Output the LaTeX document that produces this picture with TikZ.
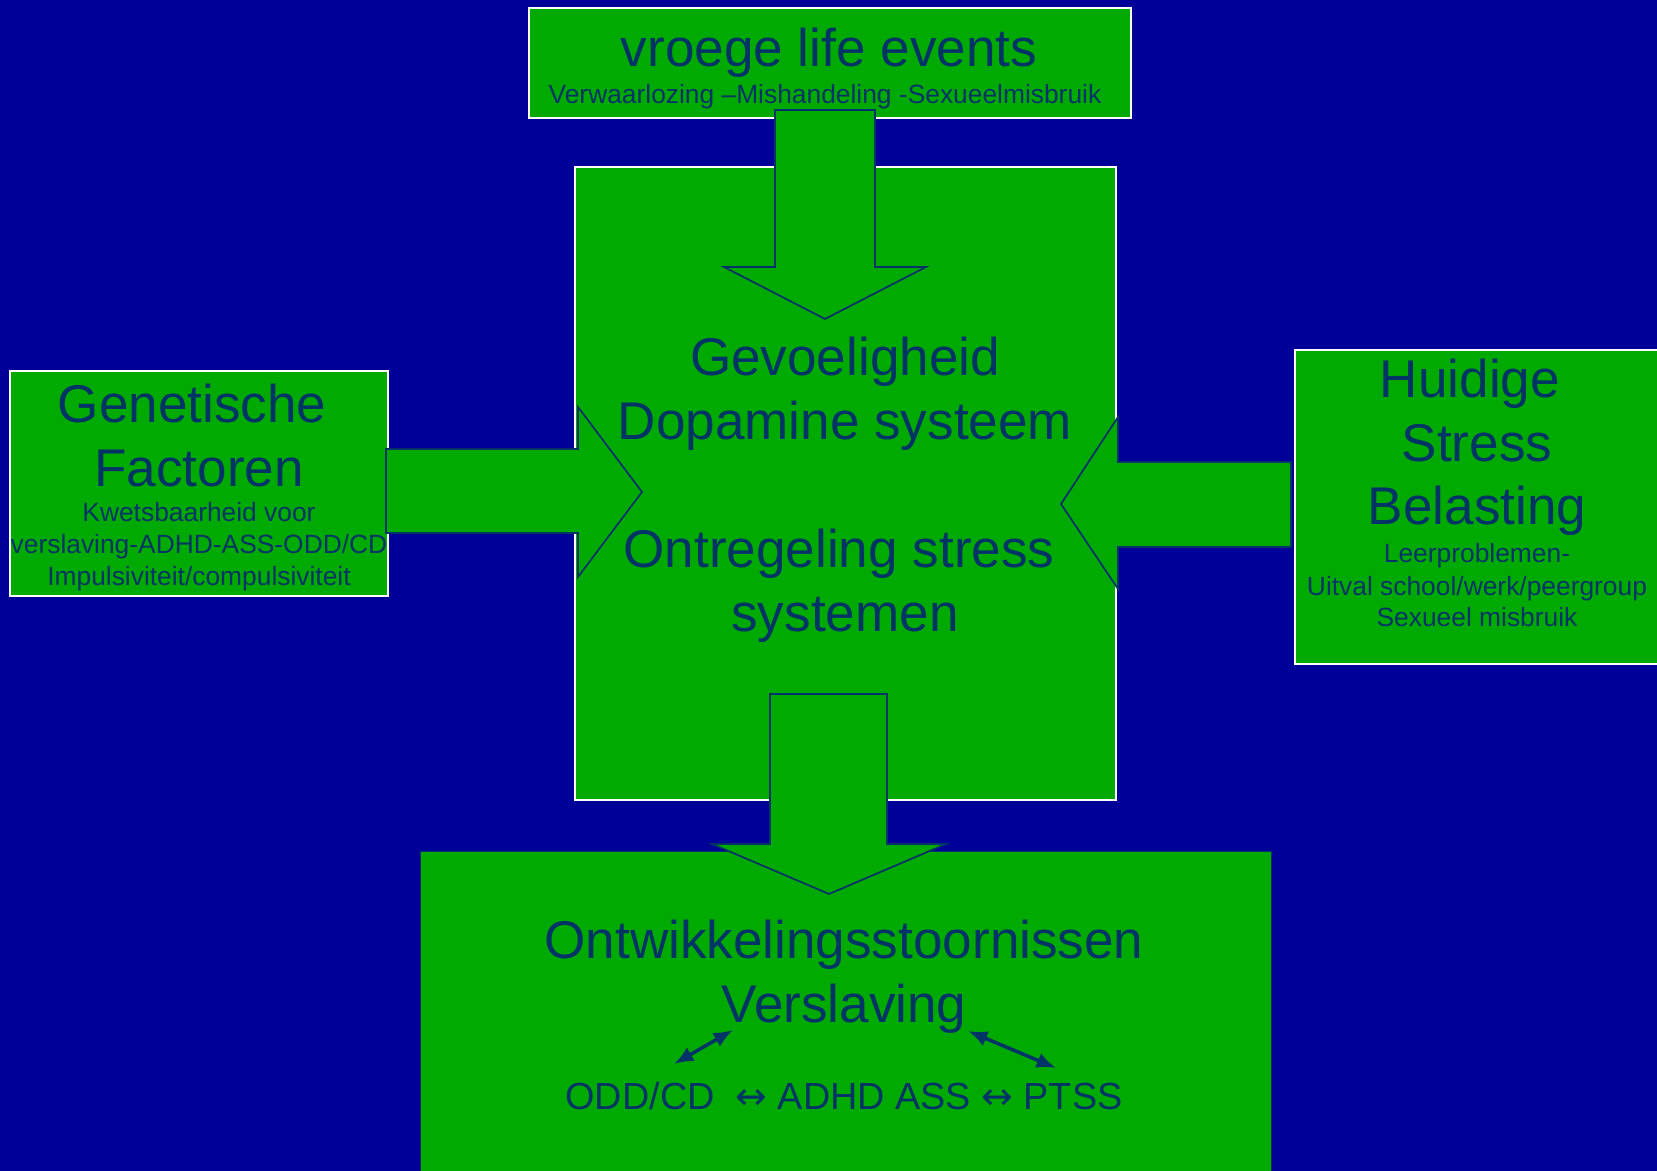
\documentclass[tikz,border=0pt]{standalone}
\usepackage{fontspec}
\setmainfont{Liberation Sans}
\newfontfamily\arrowfont{DejaVu Sans}
\usepackage{tikz}
\usepackage{xcolor}
\usetikzlibrary{arrows.meta,positioning}
\definecolor{slideblue}{RGB}{0,0,153}
\definecolor{slidegreen}{RGB}{0,170,0}
\definecolor{inkblue}{RGB}{0,51,102}
\newcommand{\lr}{{\arrowfont ↔}}

\begin{document}
\begin{tikzpicture}[x=0.01cm,y=-0.01cm,
  panel/.style={draw=white,line width=.6pt,fill=slidegreen,inner sep=0pt,anchor=north west},
  blockarrow/.style={draw=inkblue,line width=.5pt,fill=slidegreen},
  bigtxt/.style={text=inkblue,font=\fontsize{15.1}{18}\selectfont,inner sep=0pt,anchor=base},
  midtxt/.style={text=inkblue,font=\fontsize{10.75}{12.9}\selectfont,inner sep=0pt,anchor=base},
  smalltxt/.style={text=inkblue,font=\fontsize{7.5}{9}\selectfont,inner sep=0pt,anchor=base},
  pair/.style={{Latex[length=5.5pt,width=4.5pt]}-{Latex[length=5.5pt,width=4.5pt]},draw=inkblue,line width=1pt}]
\useasboundingbox (0,0) rectangle (1657,1171);
\clip (0,0) rectangle (1657,1171);
\fill[slideblue] (0,0) rectangle (1657,1171);
% boxes
\node[panel,minimum width=6.02cm,minimum height=1.10cm] (early) at (528,7) {};
\node[panel,minimum width=5.41cm,minimum height=6.33cm] (core) at (574,166) {};
\node[panel,minimum width=3.78cm,minimum height=2.25cm] (gene) at (9,370) {};
\node[panel,minimum width=4.00cm,minimum height=3.14cm] (stress) at (1294,349) {};
\node[panel,draw=inkblue,line width=.4pt,minimum width=8.50cm,minimum height=4.00cm] (outcome) at (420,851) {};
% block arrows
\draw[blockarrow] (775,110) -- (875,110) -- (875,267) -- (926,267) -- (825,319) -- (724,267) -- (775,267) -- cycle;
\draw[blockarrow] (386,449) -- (578,449) -- (578,407) -- (642,492) -- (578,577) -- (578,533) -- (386,533) -- cycle;
\draw[blockarrow] (1291,462) -- (1118,462) -- (1118,417) -- (1061,504) -- (1118,589) -- (1118,547) -- (1291,547) -- cycle;
\draw[blockarrow] (770,694) -- (887,694) -- (887,844) -- (946,844) -- (829,894) -- (712,844) -- (770,844) -- cycle;
% texts
\node[bigtxt] (earlyttl) at (829,67) {vroege life events};
\node[smalltxt] (earlysub) at (825,104) {Verwaarlozing –Mishandeling -Sexueelmisbruik};
\foreach \xx/\yy/\txt [count=\i] in {845/376/Gevoeligheid,845/440/Dopamine systeem,839/568/Ontregeling stress,845/632/systemen}
  \node[bigtxt] (core\i) at (\xx,\yy) {\txt};
\foreach \xx/\yy/\txt [count=\i] in {192/423/Genetische,199/487/Factoren}
  \node[bigtxt] (gene\i) at (\xx,\yy) {\txt};
\foreach \yy/\txt [count=\i] in {522/{Kwetsbaarheid voor},554/{verslaving-ADHD-ASS-ODD/CD},586/{Impulsiviteit/compulsiviteit}}
  \node[smalltxt] (genesub\i) at (199,\yy) {\txt};
\foreach \xx/\yy/\txt [count=\i] in {1470/398/Huidige,1477/462/Stress,1477/525/Belasting}
  \node[bigtxt] (stress\i) at (\xx,\yy) {\txt};
\foreach \yy/\txt [count=\i] in {563/{Leerproblemen-},596/{Uitval school/werk/peergroup},627/{Sexueel misbruik}}
  \node[smalltxt] (stresssub\i) at (1477,\yy) {\txt};
\node[bigtxt] (devdis) at (844,959) {Ontwikkelingsstoornissen};
\node[bigtxt] (addict) at (844,1023) {Verslaving};
\node[midtxt] (comorb) at (844,1110) {ODD/CD~ \lr{} ADHD ASS \lr{} PTSS};
% comorbidity links
\coordinate (oddend) at (674,1064);
\coordinate (addictL) at (733,1030);
\coordinate (addictR) at (968,1031);
\coordinate (ptssend) at (1056,1068);
\draw[pair] (oddend) -- (addictL);
\draw[pair] (addictR) -- (ptssend);
\end{tikzpicture}
\end{document}
